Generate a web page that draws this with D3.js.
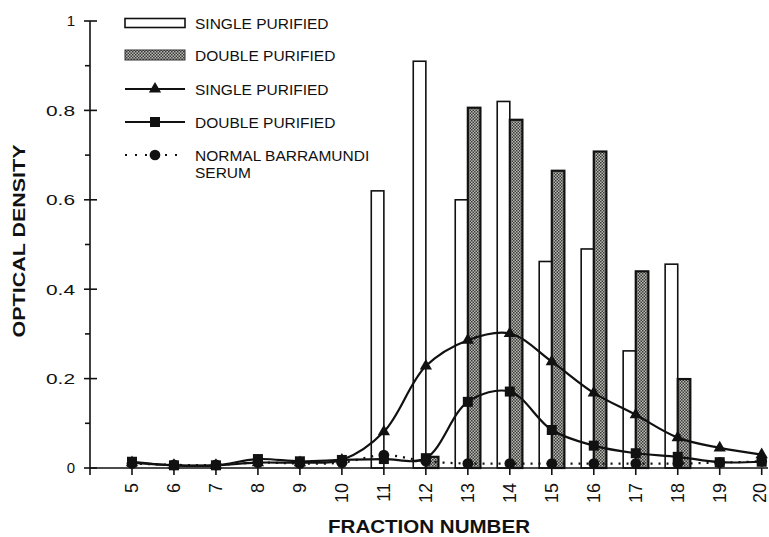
<!DOCTYPE html>
<html><head><meta charset="utf-8">
<script src="https://cdn.jsdelivr.net/npm/d3@7"></script>
<style>
body{margin:0;background:#fff}
svg{display:block}
text{font-family:"Liberation Sans",Arial,Helvetica,sans-serif;fill:#111}
</style>
</head><body>
<svg id="chart" width="769" height="537"></svg>
<script>
// ---- data ----
const fractions = [5,6,7,8,9,10,11,12,13,14,15,16,17,18,19,20];
const singleBarFractions = [11,12,13,14,15,16,17,18];
const singleBarValues    = [0.62,0.91,0.60,0.82,0.462,0.49,0.262,0.456];
const doubleBarFractions = [12,13,14,15,16,17,18];
const doubleBarValues    = [0.025,0.806,0.779,0.665,0.708,0.44,0.199];
const singleLine = [0.012,0.006,0.006,0.012,0.012,0.018,0.081,0.228,0.286,0.301,0.238,0.168,0.119,0.068,0.045,0.03];
const doubleLine = [0.014,0.006,0.006,0.02,0.015,0.018,0.02,0.022,0.148,0.171,0.085,0.05,0.033,0.025,0.013,0.014];
const serumLine  = [0.01,0.007,0.007,0.012,0.01,0.012,0.029,0.015,0.01,0.01,0.01,0.01,0.01,0.01,0.012,0.015];
const yTicks = [0,0.2,0.4,0.6,0.8,1];
const yTickLabels = ["0","0.2","0.4","0.6","0.8","1"];
const yMinorTicks = [0.1,0.3,0.5,0.7,0.9];
const legendLabels = ["SINGLE PURIFIED","DOUBLE PURIFIED","SINGLE PURIFIED","DOUBLE PURIFIED","NORMAL BARRAMUNDI","SERUM"];

const svg = d3.select("#chart");
svg.append("rect").attr("width",769).attr("height",537).attr("fill","#fff");

// stipple pattern
const defs = svg.append("defs");
const pat = defs.append("pattern").attr("id","stip").attr("patternUnits","userSpaceOnUse")
  .attr("width",3).attr("height",3);
pat.append("rect").attr("width",3).attr("height",3).attr("fill","#b8bab4");
pat.append("rect").attr("width",1.5).attr("height",1.5).attr("fill","#3a3a38");
pat.append("rect").attr("x",1.5).attr("y",1.5).attr("width",1.5).attr("height",1.5).attr("fill","#3a3a38");

const x = d3.scaleLinear().domain([4,20]).range([90,761.7]);
const y = d3.scaleLinear().domain([0,1]).range([468,21]);
const step = x(5)-x(4);
const bw = step*0.3;

// bars
svg.append("g").selectAll("rect").data(singleBarFractions.map((f,i)=>({f,v:singleBarValues[i]})))
  .join("rect")
  .attr("x",d=>x(d.f)-bw).attr("y",d=>y(d.v))
  .attr("width",bw).attr("height",d=>y(0)-y(d.v))
  .attr("fill","#fff").attr("stroke","#111").attr("stroke-width",1.6);
svg.append("g").selectAll("rect").data(doubleBarFractions.map((f,i)=>({f,v:doubleBarValues[i]})))
  .join("rect")
  .attr("x",d=>x(d.f)).attr("y",d=>y(d.v))
  .attr("width",bw).attr("height",d=>y(0)-y(d.v))
  .attr("fill","url(#stip)").attr("stroke","#111").attr("stroke-width",2.2);

// axes
const ax = svg.append("g").attr("stroke","#111").attr("stroke-width",1.6);
ax.append("line").attr("x1",x(4)).attr("x2",x(4)).attr("y1",y(1)).attr("y2",y(0)+7);
ax.append("line").attr("x1",x(4)).attr("x2",768).attr("y1",y(0)).attr("y2",y(0));
yTicks.forEach(t=>ax.append("line").attr("x1",x(4)-6).attr("x2",x(4)+7).attr("y1",y(t)).attr("y2",y(t)));
yMinorTicks.forEach(t=>ax.append("line").attr("x1",x(4)-5).attr("x2",x(4)).attr("y1",y(t)).attr("y2",y(t)));
fractions.forEach(f=>ax.append("line").attr("x1",x(f)).attr("x2",x(f)).attr("y1",y(0)).attr("y2",y(0)+7));

// y tick labels
yTicks.forEach((t,i)=>{
  const tx = svg.append("text").attr("x",75).attr("y",y(t)).attr("dy","0.36em")
    .attr("text-anchor","end").attr("font-size",15).text(yTickLabels[i]);
  if (yTickLabels[i].length>1) tx.attr("textLength",29).attr("lengthAdjust","spacingAndGlyphs");
});
// x tick labels
fractions.forEach(f=>{
  svg.append("text").attr("transform",`translate(${Math.min(x(f),760)},483) rotate(-90)`)
    .attr("dy","0.35em").attr("text-anchor","end").attr("font-size",18).text(f);
});

// axis titles
svg.append("text").attr("transform","translate(25,241) rotate(-90)")
  .attr("text-anchor","middle").attr("font-weight","bold").attr("font-size",17)
  .attr("textLength",193).attr("lengthAdjust","spacingAndGlyphs").text("OPTICAL DENSITY");
svg.append("text").attr("x",429).attr("y",533)
  .attr("text-anchor","middle").attr("font-weight","bold").attr("font-size",18.5)
  .attr("textLength",202).attr("lengthAdjust","spacingAndGlyphs").text("FRACTION NUMBER");

// lines
const curve = d3.curveCatmullRom.alpha(0.5);
const mk = vals => fractions.map((f,i)=>[x(f),y(vals[i])]);
const lineGen = d3.line().curve(curve);
svg.append("path").attr("d",lineGen(mk(serumLine))).attr("fill","none")
  .attr("stroke","#111").attr("stroke-width",2.2).attr("stroke-dasharray","2,6");
svg.append("path").attr("d",lineGen(mk(doubleLine))).attr("fill","none")
  .attr("stroke","#111").attr("stroke-width",2.2);
svg.append("path").attr("d",lineGen(mk(singleLine))).attr("fill","none")
  .attr("stroke","#111").attr("stroke-width",2.2);

const tri = d3.symbol().type(d3.symbolTriangle).size(65);
const sq = d3.symbol().type(d3.symbolSquare).size(100);
const circ = d3.symbol().type(d3.symbolCircle).size(90);
svg.append("g").selectAll("path").data(mk(serumLine)).join("path")
  .attr("transform",d=>`translate(${d[0]},${d[1]})`).attr("d",circ).attr("fill","#111");
svg.append("g").selectAll("path").data(mk(doubleLine)).join("path")
  .attr("transform",d=>`translate(${d[0]},${d[1]})`).attr("d",sq).attr("fill","#111");
svg.append("g").selectAll("path").data(mk(singleLine)).join("path")
  .attr("transform",d=>`translate(${d[0]},${d[1]})`).attr("d",tri).attr("fill","#111");

// legend
const lg = svg.append("g");
const lx0 = 125, lx1 = 185, tx = 195;
const rowsY = [23,55,89,122,155];
lg.append("rect").attr("x",lx0).attr("y",rowsY[0]-4.5).attr("width",lx1-lx0).attr("height",9)
  .attr("fill","#fff").attr("stroke","#111").attr("stroke-width",1.6);
lg.append("rect").attr("x",lx0).attr("y",rowsY[1]-5).attr("width",lx1-lx0).attr("height",10)
  .attr("fill","url(#stip)").attr("stroke","#333").attr("stroke-width",1);
lg.append("line").attr("x1",lx0).attr("x2",lx1).attr("y1",rowsY[2]).attr("y2",rowsY[2]).attr("stroke","#111").attr("stroke-width",2);
lg.append("path").attr("transform",`translate(155,${rowsY[2]})`).attr("d",tri).attr("fill","#111");
lg.append("line").attr("x1",lx0).attr("x2",lx1).attr("y1",rowsY[3]).attr("y2",rowsY[3]).attr("stroke","#111").attr("stroke-width",2);
lg.append("path").attr("transform",`translate(155,${rowsY[3]})`).attr("d",sq).attr("fill","#111");
lg.append("line").attr("x1",lx0).attr("x2",lx1).attr("y1",rowsY[4]).attr("y2",rowsY[4]).attr("stroke","#111").attr("stroke-width",2).attr("stroke-dasharray","2,8");
lg.append("path").attr("transform",`translate(155,${rowsY[4]})`).attr("d",circ).attr("fill","#111");
legendLabels.forEach((t,i)=>{
  const yy = i<5 ? rowsY[i] : 172;
  lg.append("text").attr("x",tx).attr("y",yy).attr("dy","0.36em").attr("font-size",15.5).text(t);
});
</script>
</body></html>
